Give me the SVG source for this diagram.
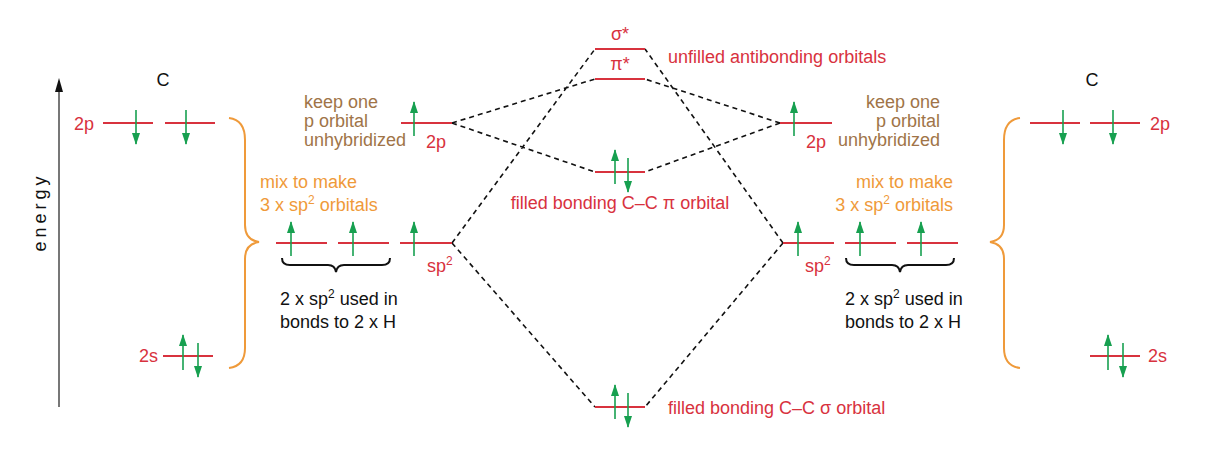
<svg xmlns="http://www.w3.org/2000/svg" width="1214" height="456" viewBox="0 0 1214 456">
<style>
text{font-family:"Liberation Sans",Arial,sans-serif;font-size:18px}
.r{fill:#d8323e}.k{fill:#111}.o{fill:#ef9a3a}.b{fill:#a07448}
.lv{stroke:#d8323e;stroke-width:2;fill:none}
.ar{stroke:#17a050;stroke-width:1.6;fill:none;marker-end:url(#g)}
.d{stroke:#111;stroke-width:1.6;stroke-dasharray:5,4;fill:none}
.br{fill:none;stroke-width:2}
.sup{font-size:12px}
</style>
<defs>
<marker id="g" markerWidth="12" markerHeight="8" refX="11" refY="4" orient="auto" markerUnits="userSpaceOnUse" viewBox="0 0 12 8"><path d="M0,0 L12,4 L0,8 Z" fill="#17a050"/></marker>
</defs>
<rect width="1214" height="456" fill="#fff"/>
<g id="axis">
<line x1="59" y1="407" x2="59" y2="88" stroke="#555" stroke-width="1.6"/>
<path d="M59,78 L63,92 L55,92 Z" fill="#111"/>
<text transform="translate(46,212) rotate(-90)" text-anchor="middle" class="k" letter-spacing="4">energy</text>
</g>
<g id="connectors">
<path class="d" d="M452,123 L595,79 M452,123 L595,172 M780,123 L645,79 M780,123 L645,172 M452,243 L595,49 M452,243 L595,407 M783,243 L645,49 M783,243 L645,407"/>
</g>
<g id="leftC">
<text x="163" y="86" class="k" text-anchor="middle">C</text>
<text x="74" y="130" class="r">2p</text>
<line class="lv" x1="103" y1="123" x2="153" y2="123"/><line class="lv" x1="165" y1="123" x2="215" y2="123"/>
<line class="ar" x1="136" y1="110" x2="136" y2="144"/>
<line class="ar" x1="186" y1="110" x2="186" y2="144"/>
<text x="139" y="362" class="r">2s</text>
<line class="lv" x1="163" y1="356" x2="213" y2="356"/>
<line class="ar" x1="183" y1="370" x2="183" y2="335"/>
<line class="ar" x1="198" y1="343" x2="198" y2="377"/>
<path class="br" stroke="#ef9a3a" d="M229,118 Q245,120 245,140 L245,225 Q245,240 259,242 Q245,244 245,259 L245,348 Q245,366 229,368"/>
<text x="260" y="188" class="o">mix to make</text>
<text x="260" y="211" class="o">3 x sp<tspan dy="-7" class="sup">2</tspan><tspan dy="7"> orbitals</tspan></text>
</g>
<g id="leftHyb">
<text x="304" y="108" class="b">keep one</text>
<text x="304" y="127" class="b">p orbital</text>
<text x="304" y="146" class="b">unhybridized</text>
<line class="lv" x1="401" y1="123" x2="452" y2="123"/>
<line class="ar" x1="414" y1="136" x2="414" y2="102"/>
<text x="426" y="148" class="r">2p</text>
<line class="lv" x1="276" y1="243" x2="327" y2="243"/><line class="lv" x1="338" y1="243" x2="389" y2="243"/><line class="lv" x1="400" y1="243" x2="452" y2="243"/>
<line class="ar" x1="291" y1="256" x2="291" y2="222"/><line class="ar" x1="353" y1="256" x2="353" y2="222"/><line class="ar" x1="414" y1="256" x2="414" y2="222"/>
<text x="427" y="272" class="r">sp<tspan dy="-7" class="sup">2</tspan></text>
<path class="br" stroke="#111" stroke-width="1.5" d="M282,258 Q282,265 290,265 L328,265 Q335,265 336,272 Q337,265 344,265 L382,265 Q390,265 390,258"/>
<text x="280" y="305" class="k">2 x sp<tspan dy="-7" class="sup">2</tspan><tspan dy="7"> used in</tspan></text>
<text x="280" y="328" class="k">bonds to 2 x H</text>
</g>
<g id="center">
<line class="lv" x1="595" y1="49" x2="645" y2="49"/>
<text x="620" y="40" class="r" text-anchor="middle">σ*</text>
<line class="lv" x1="595" y1="79" x2="645" y2="79"/>
<text x="620" y="70" class="r" text-anchor="middle">π*</text>
<text x="668" y="63" class="r">unfilled antibonding orbitals</text>
<line class="lv" x1="595" y1="172" x2="645" y2="172"/>
<line class="ar" x1="615" y1="184" x2="615" y2="150"/>
<line class="ar" x1="628" y1="158" x2="628" y2="192"/>
<text x="620" y="209" class="r" text-anchor="middle">filled bonding C–C π orbital</text>
<line class="lv" x1="595" y1="407" x2="645" y2="407"/>
<line class="ar" x1="615" y1="419" x2="615" y2="385"/>
<line class="ar" x1="628" y1="393" x2="628" y2="427"/>
<text x="668" y="414" class="r">filled bonding C–C σ orbital</text>
</g>
<g id="rightHyb">
<line class="lv" x1="780" y1="123" x2="832" y2="123"/>
<line class="ar" x1="794" y1="136" x2="794" y2="102"/>
<text x="806" y="148" class="r">2p</text>
<text x="940" y="108" class="b" text-anchor="end">keep one</text>
<text x="940" y="127" class="b" text-anchor="end">p orbital</text>
<text x="940" y="146" class="b" text-anchor="end">unhybridized</text>
<line class="lv" x1="783" y1="243" x2="834" y2="243"/><line class="lv" x1="845" y1="243" x2="896" y2="243"/><line class="lv" x1="907" y1="243" x2="958" y2="243"/>
<line class="ar" x1="798" y1="256" x2="798" y2="222"/><line class="ar" x1="860" y1="256" x2="860" y2="222"/><line class="ar" x1="921" y1="256" x2="921" y2="222"/>
<text x="805" y="272" class="r">sp<tspan dy="-7" class="sup">2</tspan></text>
<path class="br" stroke="#111" stroke-width="1.5" d="M846,258 Q846,265 854,265 L892,265 Q899,265 900,272 Q901,265 908,265 L946,265 Q954,265 954,258"/>
<text x="845" y="305" class="k">2 x sp<tspan dy="-7" class="sup">2</tspan><tspan dy="7"> used in</tspan></text>
<text x="845" y="328" class="k">bonds to 2 x H</text>
<text x="953" y="188" class="o" text-anchor="end">mix to make</text>
<text x="953" y="211" class="o" text-anchor="end">3 x sp<tspan dy="-7" class="sup">2</tspan><tspan dy="7"> orbitals</tspan></text>
</g>
<g id="rightC">
<path class="br" stroke="#ef9a3a" d="M1020,118 Q1004,120 1004,140 L1004,225 Q1004,240 990,242 Q1004,244 1004,259 L1004,348 Q1004,366 1020,368"/>
<text x="1092" y="86" class="k" text-anchor="middle">C</text>
<line class="lv" x1="1030" y1="123" x2="1080" y2="123"/><line class="lv" x1="1090" y1="123" x2="1140" y2="123"/>
<line class="ar" x1="1063" y1="110" x2="1063" y2="144"/>
<line class="ar" x1="1113" y1="110" x2="1113" y2="144"/>
<text x="1150" y="130" class="r">2p</text>
<line class="lv" x1="1090" y1="356" x2="1140" y2="356"/>
<line class="ar" x1="1108" y1="370" x2="1108" y2="335"/>
<line class="ar" x1="1123" y1="343" x2="1123" y2="377"/>
<text x="1148" y="362" class="r">2s</text>
</g>
</svg>
